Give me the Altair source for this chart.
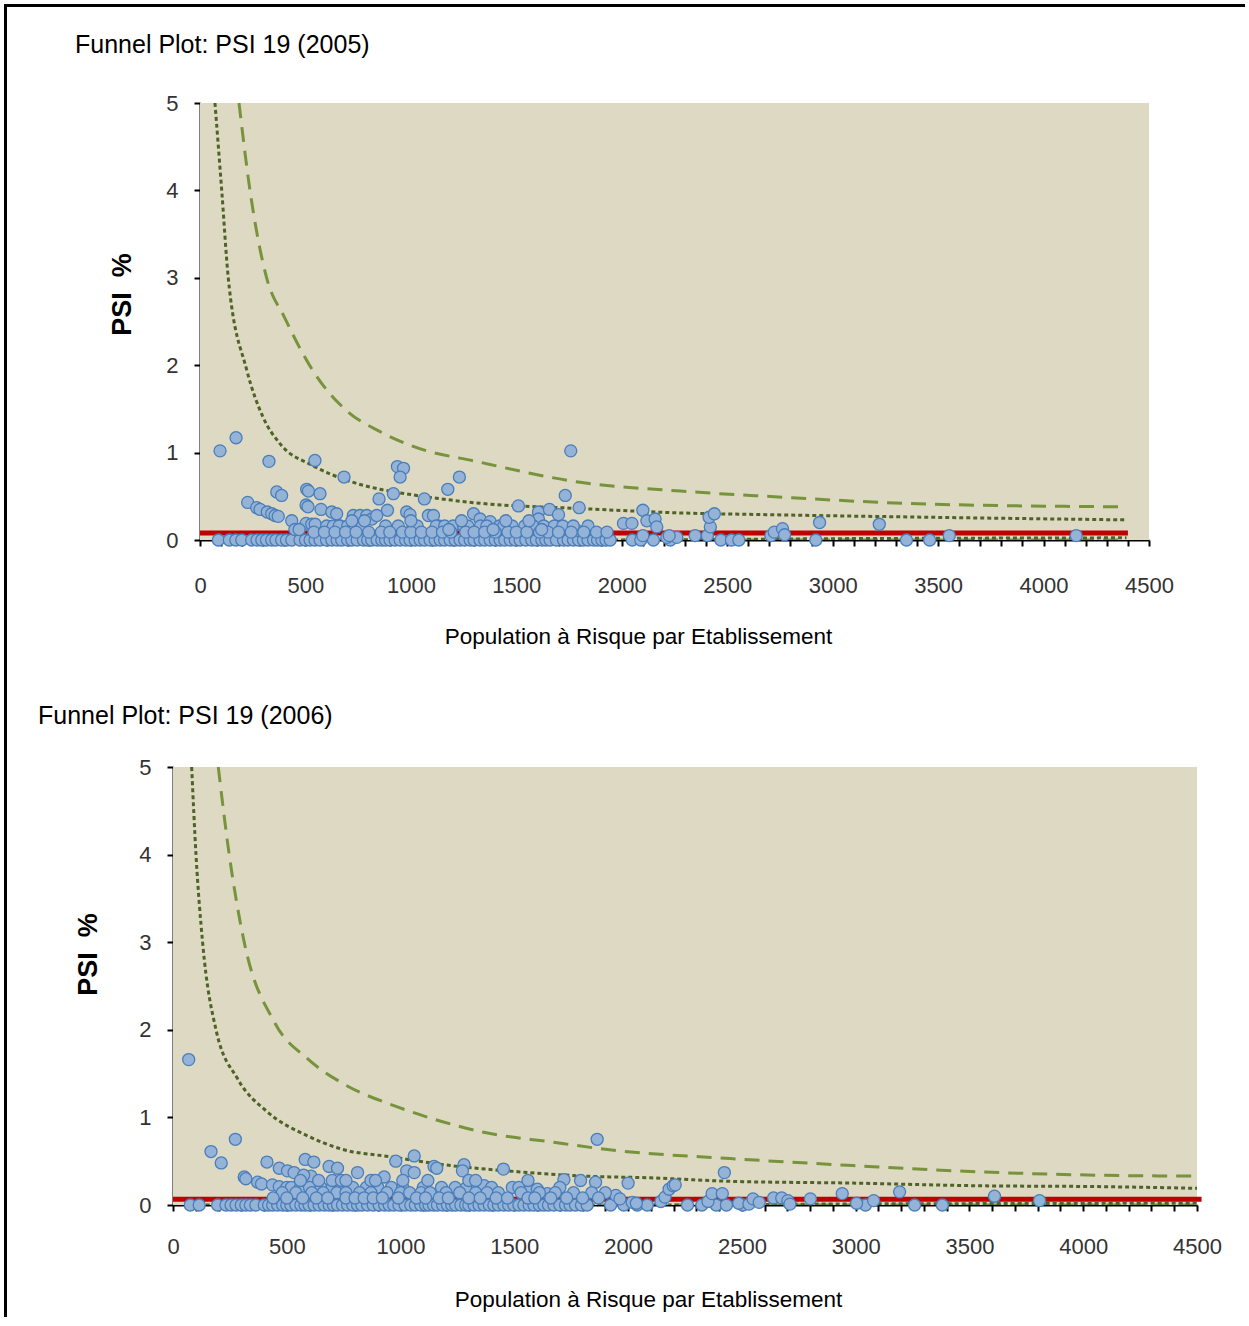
import altair as alt
import pandas as pd

NARROW = "Liberation Sans Narrow, Arial Narrow, Liberation Sans, Arial, sans-serif"
BOLD = "Liberation Sans, Arial, sans-serif"

# ---------------- texts ----------------
panel_titles = ["Funnel Plot: PSI 19 (2005)", "Funnel Plot: PSI 19 (2006)"]
x_title = "Population à Risque par Etablissement"
y_title = "PSI\u00a0\u00a0%"
x_label_step = 500
x_ticks = list(range(0, 4501, 100))
y_ticks = [0, 0.5, 1, 1.5, 2, 2.5, 3, 3.5, 4, 4.5, 5]
x_domain = [0, 4500]
y_domain = [0, 5]

# ---------------- 2005 panel ----------------
p1_zero_x = [87, 139, 170, 198, 245, 270, 293, 315, 340, 360, 387, 410, 435, 474, 500, 522, 545,
             569, 600, 625, 650, 672, 700, 720, 745, 775, 795, 814, 840, 862, 880, 901, 925, 949,
             975, 996, 1020, 1044, 1065, 1091, 1115, 1139, 1160, 1186, 1210, 1233, 1255, 1281,
             1300, 1328, 1350, 1376, 1400, 1423, 1445, 1471, 1495, 1518, 1545, 1573, 1595, 1621,
             1640, 1660, 1690, 1724, 1745, 1771, 1795, 1818, 1840, 1866, 1885, 1906, 1925, 1945,
             2050, 2090, 2150, 2230, 2470, 2520, 2555, 2920, 3350, 3460]
p1_pt_x = [95, 171, 327, 545, 683, 936, 965, 949, 1230, 1175, 1758, 1732, 1798, 1510, 1064, 917,
           849, 889, 569, 506, 514, 364, 387, 503, 512, 226, 269, 285, 319, 340, 356, 371, 435,
           503, 530, 546, 574, 625, 648, 601, 632, 664, 727, 759, 791, 815, 838, 980, 996, 1083,
           1107, 1131, 1297, 1328, 1376, 1605, 1605, 1657, 1700, 1787, 2008, 2048, 2100, 2119,
           2158, 2166, 2100, 2214, 2261, 2225, 2348, 2406, 2420, 2414, 2439, 2707, 2723, 2762,
           2772, 2938, 3221, 3553, 4155]
p1_pt_y = [1.02, 1.17, 0.90, 0.91, 0.72, 0.84, 0.82, 0.72, 0.72, 0.58, 1.02, 0.51, 0.37, 0.39,
           0.47, 0.53, 0.47, 0.34, 0.53, 0.58, 0.56, 0.55, 0.51, 0.40, 0.38, 0.43, 0.37, 0.35,
           0.32, 0.30, 0.28, 0.27, 0.22, 0.19, 0.18, 0.18, 0.35, 0.32, 0.30, 0.16, 0.16, 0.16,
           0.28, 0.28, 0.28, 0.24, 0.28, 0.32, 0.29, 0.28, 0.28, 0.16, 0.30, 0.24, 0.21, 0.32,
           0.24, 0.35, 0.29, 0.11, 0.19, 0.19, 0.34, 0.22, 0.24, 0.15, 0.05, 0.03, 0.03, 0.05,
           0.05, 0.05, 0.15, 0.26, 0.30, 0.05, 0.09, 0.13, 0.06, 0.20, 0.18, 0.05, 0.05]
p1_c16_x = [660, 700, 770, 880, 940, 1010, 1030, 1120, 1160, 1200, 1250, 1270, 1330, 1360, 1420,
            1440, 1480, 1540, 1580, 1630, 1680, 1720, 1770, 1840]
p1_c09_x = [540, 590, 640, 690, 740, 800, 860, 900, 960, 1000, 1050, 1100, 1150, 1190, 1260, 1300,
            1350, 1400, 1460, 1500, 1550, 1610, 1650, 1700, 1760, 1820, 1880, 1930]
p1_c22_x = [720, 780, 1000, 1240, 1450, 1560]
p1_c12_x = [450, 470, 1180, 1390, 1620]

p1_dot_x = [71, 103, 134, 221, 300, 380, 536, 700, 854, 1000, 1328, 1803, 2277, 2684, 3465, 4393]
p1_dot_y = [5.0, 4.0, 3.0, 1.95, 1.40, 1.10, 0.85, 0.68, 0.58, 0.52, 0.42, 0.36, 0.31, 0.29, 0.26, 0.23]
p1_dash_x = [185, 237, 316, 400, 540, 700, 854, 1000, 1328, 1803, 2277, 2684, 3465, 4393]
p1_dash_y = [5.0, 4.0, 3.0, 2.55, 1.92, 1.47, 1.24, 1.08, 0.89, 0.66, 0.56, 0.50, 0.41, 0.38]
p1_lodot_x = [71, 2000, 3000, 4393]
p1_lodot_y = [0.0, 0.0, 0.015, 0.025]
p1_lodash_x = [185, 4393]
p1_lodash_y = [0.0, 0.0]
p1_mean_x = [0, 4400]
p1_mean_y = [0.08, 0.08]

# ---------------- 2006 panel ----------------
p2_zero_x = [76, 115, 196, 233, 255, 277, 300, 320, 340, 364, 401, 420, 438, 460, 482, 500, 518,
             540, 562, 580, 598, 620, 642, 665, 686, 705, 723, 745, 767, 790, 811, 830, 855, 880,
             906, 930, 950, 970, 993, 1020, 1045, 1065, 1089, 1110, 1125, 1145, 1162, 1185, 1206,
             1225, 1242, 1265, 1286, 1300, 1323, 1345, 1367, 1390, 1410, 1430, 1454, 1475, 1498,
             1520, 1542, 1565, 1586, 1610, 1630, 1650, 1674, 1700, 1725, 1745, 1769, 1795, 1820,
             1923, 1981, 2040, 2084, 2261, 2324, 2387, 2432, 2504, 3043, 3259, 3381]
p2_pt_x = [69, 274, 167, 212, 313, 320, 372, 389, 413, 437, 467, 500, 467, 503, 532, 577, 606, 581,
           619, 574, 686, 723, 811, 928, 979, 1060, 1027, 1060, 1147, 1159, 1279, 1272, 1452, 1864,
           1718, 1791, 1857, 2000, 1491, 1564, 1601, 1645, 1323, 1367, 1250, 1286, 1946, 1964,
           2018, 2036, 2144, 2162, 2180, 2198, 2207, 2351, 2369, 2414, 2423, 2486, 2531, 2549,
           2576, 2639, 2675, 2702, 2711, 2801, 2941, 3004, 3079, 3193, 3610, 3808]
p2_pt_y = [1.66, 0.75, 0.61, 0.48, 0.32, 0.30, 0.26, 0.24, 0.49, 0.23, 0.21, 0.20, 0.42, 0.39,
           0.37, 0.33, 0.33, 0.52, 0.49, 0.34, 0.44, 0.42, 0.37, 0.32, 0.50, 0.56, 0.39, 0.37,
           0.44, 0.42, 0.46, 0.39, 0.41, 0.75, 0.29, 0.28, 0.26, 0.25, 0.20, 0.19, 0.18, 0.13,
           0.22, 0.22, 0.16, 0.19, 0.11, 0.07, 0.03, 0.02, 0.04, 0.09, 0.18, 0.22, 0.23, 0.04,
           0.13, 0.13, 0.37, 0.02, 0.01, 0.07, 0.03, 0.08, 0.08, 0.05, 0.01, 0.07, 0.13, 0.02,
           0.05, 0.15, 0.10, 0.05]
p2_c20_x = [520, 560, 600, 650, 700, 740, 790, 850, 900, 960, 1010, 1100, 1180, 1240, 1400, 1520, 1700]
p2_c14_x = [480, 540, 610, 660, 720, 760, 820, 870, 940, 1000, 1040, 1090, 1130, 1200, 1260, 1330,
            1380, 1430, 1530, 1610, 1680, 1760, 1840, 1900]
p2_c08_x = [440, 500, 570, 630, 680, 760, 800, 840, 880, 920, 990, 1070, 1110, 1170, 1210, 1300,
            1350, 1420, 1470, 1560, 1590, 1660, 1730, 1800, 1870]
p2_c28_x = [560, 640, 700, 740, 760, 870, 890, 1010, 1120, 1300, 1330, 1560]

p2_dot_x = [82, 101, 130, 189, 284, 416, 591, 738, 957, 1221, 1515, 1805, 2098, 2450, 2989, 3529, 4068, 4509]
p2_dot_y = [5.0, 4.0, 3.0, 2.0, 1.44, 1.06, 0.79, 0.64, 0.55, 0.45, 0.38, 0.33, 0.31, 0.27, 0.25, 0.22, 0.21, 0.19]
p2_dash_x = [199, 247, 313, 445, 591, 738, 986, 1147, 1366, 1660, 1953, 2450, 2989, 3529, 4068, 4509]
p2_dash_y = [5.0, 4.0, 3.0, 2.09, 1.67, 1.40, 1.12, 0.98, 0.83, 0.72, 0.62, 0.53, 0.45, 0.38, 0.34, 0.33]
p2_lodot_x = [82, 2000, 3000, 4509]
p2_lodot_y = [0.0, 0.0, 0.012, 0.02]
p2_lodash_x = [199, 4509]
p2_lodash_y = [0.0, 0.0]
p2_mean_x = [0, 4520]
p2_mean_y = [0.065, 0.065]


def pts_frame(zero_x, px, py, clusters):
    xs = list(zero_x) + list(px)
    ys = [0.0] * len(zero_x) + list(py)
    for cx, cy in clusters:
        xs += list(cx)
        ys += [cy] * len(cx)
    return pd.DataFrame({"x": xs, "y": ys})


def line_frame(xs, ys):
    return pd.DataFrame({"x": xs, "y": ys})


def panel(title, pts, dot, dash, lodot, lodash, mean, width, height, x_range, y_offset,
          title_dx, title_dy, xt_x, xt_y, yt_x, yt_y, lab_pad_x,
          border_left, border_top_y, border_bottom, top_border_right):
    xs = alt.Scale(domain=x_domain, nice=False, zero=False, range=x_range)
    ys = alt.Scale(domain=y_domain, nice=False)
    xaxis = alt.Axis(values=x_ticks, format="d",
                     labelExpr=f"datum.value % {x_label_step} === 0 ? datum.label : ''",
                     title=x_title, titleX=xt_x, titleY=xt_y, titleAlign="center",
                     titleBaseline="middle", titleFont=NARROW, titleFontSize=22.5,
                     titleFontWeight="normal", titleColor="black",
                     labelFont=NARROW, labelFontSize=22, labelColor="#333333",
                     labelPadding=lab_pad_x, labelFlush=False, labelOverlap=False,
                     tickSize=6, tickWidth=2, tickColor="black",
                     domainColor="black", domainWidth=2, grid=False)
    yaxis = alt.Axis(values=y_ticks, format="d", offset=y_offset,
                     labelExpr="datum.value % 1 === 0 ? datum.label : ''",
                     title=y_title, titleX=yt_x, titleY=yt_y, titleAlign="center",
                     titleBaseline="middle", titleFont=BOLD, titleFontSize=27,
                     titleFontWeight="bold", titleColor="black",
                     labelFont=NARROW, labelFontSize=22, labelColor="#333333",
                     labelPadding=16, labelFlush=False, labelOverlap=False,
                     tickSize=6, tickWidth=2, tickColor="black",
                     domainColor="black", domainWidth=2, grid=False)
    X = alt.X("x:Q", scale=xs, axis=xaxis)
    Y = alt.Y("y:Q", scale=ys, axis=yaxis)

    bg_df = pd.DataFrame({"x": [x_domain[0]], "x2": [x_domain[1]],
                          "y": [y_domain[0]], "y2": [y_domain[1]]})
    bg = alt.Chart(bg_df).mark_rect(color="#DDD9C3").encode(
        x=X, x2="x2:Q", y=Y, y2="y2:Q")

    dot_style = dict(color="#4F6228", strokeWidth=3, strokeDash=[4, 3], clip=True,
                     interpolate="monotone")
    dash_style = dict(color="#77933C", strokeWidth=3, strokeDash=[15, 9], clip=True,
                      interpolate="monotone")
    lo_dot = alt.Chart(lodot).mark_line(**dot_style).encode(x=X, y=Y)
    lo_dash = alt.Chart(lodash).mark_line(**dash_style).encode(x=X, y=Y)
    up_dot = alt.Chart(dot).mark_line(**dot_style).encode(x=X, y=Y)
    up_dash = alt.Chart(dash).mark_line(**dash_style).encode(x=X, y=Y)
    mean_line = alt.Chart(mean).mark_line(color="#C00000", strokeWidth=5).encode(x=X, y=Y)
    points = alt.Chart(pts).mark_circle(size=145, fill="#95B3D7", stroke="#4A7EBB",
                                        strokeWidth=1.3, opacity=1).encode(x=X, y=Y)

    one = pd.DataFrame({"t": [title]})
    ttl = alt.Chart(one).mark_text(align="left", baseline="alphabetic", font=NARROW,
                                   fontSize=25, color="black").encode(
        x=alt.value(title_dx), y=alt.value(title_dy), text="t:N")
    left_border = alt.Chart(one).mark_rect(color="black").encode(
        x=alt.value(border_left), x2=alt.value(border_left + 3),
        y=alt.value(border_top_y), y2=alt.value(border_bottom))
    layers = [bg, lo_dash, lo_dot, up_dot, up_dash, mean_line, points, ttl, left_border]
    if top_border_right is not None:
        top_border = alt.Chart(one).mark_rect(color="black").encode(
            x=alt.value(border_left), x2=alt.value(top_border_right),
            y=alt.value(border_top_y), y2=alt.value(border_top_y + 3))
        layers.append(top_border)
    return alt.layer(*layers).properties(width=width, height=height)


# both panels share their group origin (page x = 173); the 2005 panel's axes start 27 px further right
p1 = panel(panel_titles[0],
           pts_frame(p1_zero_x, p1_pt_x, p1_pt_y,
                     [(p1_c16_x, 0.16), (p1_c09_x, 0.09), (p1_c22_x, 0.22), (p1_c12_x, 0.12)]),
           line_frame(p1_dot_x, p1_dot_y), line_frame(p1_dash_x, p1_dash_y),
           line_frame(p1_lodot_x, p1_lodot_y), line_frame(p1_lodash_x, p1_lodash_y),
           line_frame(p1_mean_x, p1_mean_y),
           width=976, height=437, x_range=[27, 976], y_offset=-27,
           title_dx=-98, title_dy=-50,
           xt_x=465, xt_y=96, yt_x=-78, yt_y=191, lab_pad_x=29,
           border_left=-169, border_top_y=-99, border_bottom=586, top_border_right=1072)

p2 = panel(panel_titles[1],
           pts_frame(p2_zero_x, p2_pt_x, p2_pt_y,
                     [(p2_c20_x, 0.20), (p2_c14_x, 0.14), (p2_c08_x, 0.08), (p2_c28_x, 0.28)]),
           line_frame(p2_dot_x, p2_dot_y), line_frame(p2_dash_x, p2_dash_y),
           line_frame(p2_lodot_x, p2_lodot_y), line_frame(p2_lodash_x, p2_lodash_y),
           line_frame(p2_mean_x, p2_mean_y),
           width=1024, height=438, x_range=[0, 1024], y_offset=0,
           title_dx=-135, title_dy=-43,
           xt_x=475, xt_y=94, yt_x=-85, yt_y=187, lab_pad_x=25,
           border_left=-169, border_top_y=-78, border_bottom=550, top_border_right=None)

chart = alt.vconcat(p1, p2, spacing=0).properties(
    padding=4, background="white").configure_view(stroke=None, fill=None)

chart.save("out.html", embed_options={"renderer": "svg", "actions": False})
